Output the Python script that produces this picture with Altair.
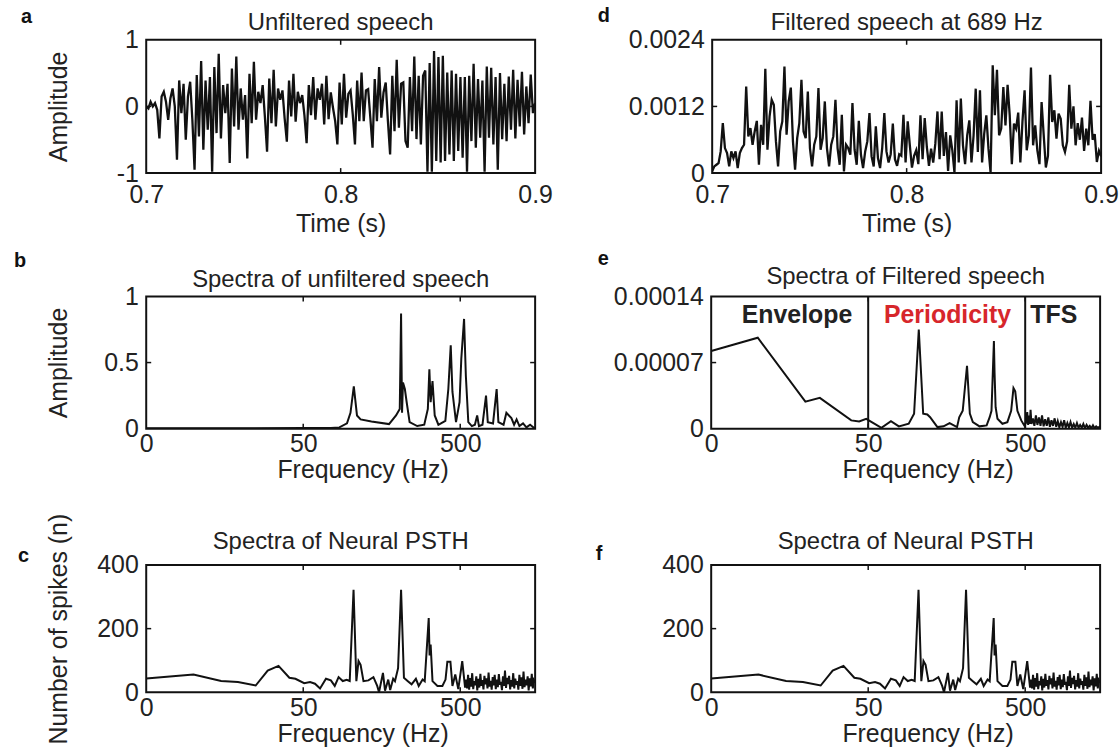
import altair as alt
import pandas as pd

FONT = "Liberation Sans"
INK = "#111111"
TXT = "#222222"
RED = "#d7262b"

# ---------------- data ----------------
# a: unfiltered speech waveform, samples equally spaced over 0.7-0.9 s
amp_a = [
    0.0, -0.03, 0.07, 0.0, 0.05, -0.05, -0.48, 0.15, 0.22, 0.07,
    -0.2, 0.12, 0.27, 0.0, -0.8, 0.39, -0.1, 0.34, -0.5, 0.15,
    0.37, -0.2, -0.95, 0.47, -0.45, 0.68, -0.65, 0.39, -0.35, 0.44,
    -0.98, 0.59, -0.4, 0.79, -0.48, 0.32, -0.1, 0.34, -0.85, 0.57,
    -0.3, 0.75, -0.35, 0.27, -0.2, 0.17, -0.78, 0.49, -0.25, 0.67,
    -0.2, 0.22, 0.05, 0.32, -0.15, -0.68, 0.42, -0.25, 0.55, -0.3,
    0.27, 0.1, 0.24, -0.18, -0.53, 0.39, -0.15, 0.49, -0.23, 0.22,
    0.05, 0.17, -0.13, -0.55, 0.32, -0.13, 0.44, -0.2, 0.27, 0.1,
    0.34, -0.27, 0.46, -0.19, 0.21, -0.02, -0.22, -0.57, 0.36, -0.27,
    0.49, -0.17, 0.19, 0.24, -0.12, -0.57, 0.39, -0.22, 0.51, -0.22,
    0.24, 0.26, -0.17, -0.62, 0.41, -0.22, 0.59, -0.17, 0.21, 0.36,
    -0.22, -0.72, 0.46, -0.37, 0.70, -0.32, 0.34, 0.36, -0.52, -0.62,
    0.44, -0.37, 0.75, -0.49, 0.46, -0.57, 0.46, 0.54, -0.98, 0.65,
    -0.98, 0.83, -0.82, 0.74, -0.84, 0.76, -0.82, 0.51, -0.72, 0.54,
    -0.82, 0.49, -0.67, 0.44, -0.77, 0.44, -0.98, 0.46, -0.52, 0.64,
    -0.62, 0.41, -0.47, 0.39, -0.98, 0.60, -0.47, 0.58, -0.57, 0.44,
    -0.95, 0.50, -0.49, 0.34,
    -0.52, 0.45, -0.35, 0.55, -0.48, 0.4, -0.3, 0.52, -0.42, 0.3,
    -0.25, 0.48, -0.1, 0.05,
]

# d: speech filtered at 689 Hz, samples equally spaced over 0.7-0.9 s
amp_d = [
    0.00003, 0.00012, 0.00015, 0.00018, 0.00039, 0.00090, 0.00045, 0.00036, 0.00012, 0.00039,
    0.00027, 0.00039, 0.00009, 0.00036, 0.00045, 0.00051, 0.00156, 0.00066, 0.00081, 0.00051,
    0.00075, 0.00094, 0.00015, 0.00087, 0.00051, 0.00188, 0.00042, 0.00102, 0.00132, 0.00123,
    0.00057, 0.00012, 0.00075, 0.00093, 0.00192, 0.00069, 0.00129, 0.00154, 0.00057, 0.00006,
    0.00063, 0.00090, 0.00168, 0.00075, 0.00063, 0.00147, 0.00045, 0.00012, 0.00051, 0.00066,
    0.00153, 0.00042, 0.00063, 0.00129, 0.00045, 0.00012, 0.00051, 0.00066, 0.00132, 0.00045,
    0.00015, 0.00105, 0.00003, 0.00051, 0.00045, 0.00033, 0.00126, 0.00042, 0.00015, 0.00094,
    0.00033, 0.00009, 0.00039, 0.00057, 0.00108, 0.00030, 0.00012, 0.00084, 0.00027, 0.00009,
    0.00045, 0.00108, 0.00039,
    0.00019, 0.00034, 0.00089, 0.00025, 0.00013, 0.00034, 0.00031, 0.00105, 0.00019, 0.00093,
    0.00050, 0.00010, 0.00031, 0.00041, 0.00016, 0.00104, 0.00025, 0.00099, 0.00047, 0.00013,
    0.00044, 0.00019, 0.00053, 0.00111, 0.00025, 0.00111, 0.00031, 0.00074, 0.00004, 0.00068,
    0.00041, 0.00001, 0.00131, 0.00019, 0.00134, 0.00050, 0.00016, 0.00068, 0.00095, 0.00019,
    0.00068, 0.00152, 0.00038, 0.00149, 0.00019, 0.00071, 0.00104, 0.00044, 0.00001, 0.00194,
    0.00104, 0.00186, 0.00068, 0.00080, 0.00155, 0.00086, 0.00159, 0.00104, 0.00016, 0.00089,
    0.00080, 0.00109, 0.00019, 0.00093, 0.00149, 0.00041, 0.00068, 0.00190, 0.00050, 0.00086,
    0.00041, 0.00016, 0.00128, 0.00068, 0.00010, 0.00031, 0.00177, 0.00092, 0.00113, 0.00062,
    0.00107, 0.00098, 0.00050, 0.00038, 0.00057, 0.00159,
    0.00080, 0.00120, 0.00050, 0.00090, 0.00060, 0.00100, 0.00040, 0.00080, 0.00050, 0.00130,
    0.00060, 0.00070, 0.00020, 0.00040, 0.00030,
]

# b: spectrum of unfiltered speech
freq_b = [5, 20, 50, 75, 85, 95, 100, 105, 110, 116,
          136, 176, 195, 206, 210, 213, 216, 222, 228, 238,
          266, 295, 311, 318, 324, 333, 344, 363, 402, 420,
          435, 446, 470, 495, 508, 529, 543, 563, 593, 620,
          641, 658, 693, 730, 749, 809, 853, 875, 944, 984,
          1021, 1059, 1102, 1143, 1191, 1256, 1321, 1393, 1500]
amp_b = [0.003, 0.004, 0.005, 0.006, 0.01, 0.04, 0.12, 0.32, 0.1, 0.07,
         0.055, 0.035, 0.1, 0.15, 0.87, 0.12, 0.35, 0.3, 0.2, 0.05,
         0.02, 0.03, 0.15, 0.45, 0.2, 0.36, 0.1, 0.03, 0.06, 0.3,
         0.63, 0.28, 0.05, 0.2, 0.53, 0.83, 0.4, 0.05, 0.02, 0.03,
         0.1, 0.02, 0.03, 0.25, 0.05, 0.04, 0.30, 0.05, 0.03, 0.12,
         0.1, 0.08, 0.03, 0.07, 0.02, 0.04, 0.01, 0.03, 0.0]

# e: spectrum of filtered speech
freq_e = [5, 9.9, 19.9, 24.6, 39, 43.8, 48.6, 54, 60.7, 69.8,
          78.4, 90.6, 98, 105, 112, 119, 124, 138, 151, 165,
          184, 190, 200, 213, 222, 232, 256, 284, 297, 305,
          316, 319, 324, 333, 358, 385, 407, 421, 432, 446,
          472, 493,
          505, 515, 522, 528, 535, 541, 548, 560, 572, 585,
          598, 612, 626, 640, 655, 670, 686, 702, 718, 735,
          752, 770, 788, 806, 825, 845, 865, 885, 906, 928,
          950, 972, 995, 1019, 1043, 1068, 1093, 1119, 1146, 1173,
          1201, 1230, 1259, 1289, 1320, 1351, 1383, 1416, 1450, 1485,
          1500]
amp_e = [8.23e-5, 9.63e-5, 2.87e-5, 3.26e-5, 8.8e-6, 7.7e-6, 1.05e-5, 6.0e-6, 1.0e-6, 8.0e-6,
         2.5e-6, 5.3e-6, 1.58e-5, 1.05e-4, 1.58e-5, 1.5e-5, 1.22e-5, 1.7e-6, 2.5e-6, 6.0e-6,
         1.7e-6, 1.2e-5, 1.9e-5, 6.65e-5, 1.6e-5, 7.0e-6, 2.5e-6, 3.5e-6, 1.22e-5, 1.9e-5,
         9.28e-5, 5.95e-5, 2.27e-5, 1.05e-5, 5.2e-6, 7.0e-6, 1.9e-5, 4.3e-5, 3.95e-5, 1.9e-5,
         8.8e-6, 3.5e-6,
         6.0e-6, 1.75e-5, 4.0e-6, 1.4e-5, 5.0e-6, 2.0e-5, 5.0e-6, 1.1e-5, 3.0e-6, 1.4e-5,
         4.0e-6, 1.2e-5, 3.0e-6, 1.4e-5, 2.5e-6, 1.0e-5, 3.0e-6, 1.2e-5, 2.0e-6, 9.0e-6,
         3.0e-6, 1.1e-5, 2.0e-6, 8.0e-6, 1.5e-6, 7.0e-6, 2.0e-6, 9.0e-6, 1.0e-6, 6.0e-6,
         1.5e-6, 7.0e-6, 1.0e-6, 5.0e-6, 1.0e-6, 6.0e-6, 1.0e-6, 4.0e-6, 1.0e-6, 5.0e-6,
         5.0e-7, 4.0e-6, 1.0e-6, 3.0e-6, 5.0e-7, 3.5e-6, 5.0e-7, 2.5e-6, 1.0e-6, 2.0e-6,
         1.0e-6]

# c / f: spectrum of neural PSTH
freq_psth = [5, 10, 15, 19.2, 24.9, 29.7, 34.8, 40.8, 44.6, 50.7,
             55.3, 59.4, 64, 69.8, 75, 79.4, 84, 89.3, 94.6, 98.9,
             104.6, 109, 112.5, 116, 121, 130, 140, 148, 152, 161,
             166, 174, 179, 187, 192, 201, 210, 219, 232, 245,
             261, 272, 288, 297, 315, 319, 324, 333, 358, 385,
             403, 414, 433, 446, 465, 486, 515, 537,
             545, 553, 561, 570, 578, 587, 596, 605, 614, 623,
             633, 642, 652, 662, 672, 682, 692, 703, 713, 724,
             735, 746, 758, 769, 781, 793, 805, 817, 829, 842,
             855, 868, 881, 894, 908, 922, 936, 950, 964, 979,
             994, 1009, 1024, 1040, 1055, 1071, 1088, 1104, 1121, 1138,
             1155, 1173, 1191, 1209, 1227, 1246, 1265, 1284, 1304, 1324,
             1344, 1364, 1385, 1406, 1428, 1450, 1472, 1500]
spikes_psth = [43.5, 55.7, 35.4, 32.4, 21.3, 68, 83, 45.6, 42.5, 28.4,
               32, 27, 12, 42.5, 37.5, 20, 47.6, 35.4, 39.5, 35.4,
               322, 35, 98, 86, 35, 37.5, 47.6, 20, 0, 61,
               5, 40, 7, 42.5, 35, 76, 322, 45.6, 35, 25,
               42.5, 20, 40.5, 35, 233, 116, 150, 35, 20, 20,
               40, 96, 96, 20, 56, 10, 98, 15,
               40, 12, 55, 8, 45, 18, 60, 10, 35, 22,
               50, 6, 42, 15, 58, 20, 38, 9, 52, 25,
               44, 12, 62, 18, 36, 8, 48, 22, 55, 10,
               40, 16, 57, 24, 33, 7, 50, 20, 68, 14,
               45, 26, 52, 9, 38, 18, 60, 12, 43, 24,
               35, 8, 55, 20, 47, 11, 65, 16, 40, 22,
               50, 6, 44, 19, 58, 12, 38, 30]

time_range = [0.7, 0.9]
time_ticks = [0.7, 0.8, 0.9]
freq_range = [5, 1500]
freq_ticks = [5, 50, 500]
band_edges = [50, 500]
band_names = ["Envelope", "Periodicity", "TFS"]
band_centres = [17.6, 160, 760]

# ---------------- layout ----------------
W = 391
H1, H2, H3 = 134, 133, 128
TICK_FS = 25
AXT_FS = 25
TITLE_FS = 24


def time_df(vals):
    n = len(vals)
    return pd.DataFrame({
        "x": [time_range[0] + (time_range[1] - time_range[0]) * i / (n - 1) for i in range(n)],
        "y": vals,
    })


def panel(df, kind, ydom, yticks, yfmt, title, ty, ytitle, letter, ldx, ldy, h,
          lw=2.0, extras=()):
    if kind == "time":
        xscale = alt.Scale(domain=time_range, nice=False, zero=False)
        xaxis = alt.Axis(values=time_ticks, format=".1f", title="Time (s)",
                         titleX=W / 2, titleY=59, titleBaseline="alphabetic",
                         labelPadding=10)
        xticks_in = [0.8]
    else:
        xscale = alt.Scale(type="log", domain=freq_range, nice=False)
        xaxis = alt.Axis(values=freq_ticks,
                         labelExpr="datum.value < 10 ? '0' : format(datum.value, 'd')",
                         title="Frequency (Hz)", titleX=W / 2 + 22, titleY=49,
                         titleBaseline="alphabetic", labelPadding=3)
        xticks_in = [50, 500]
    yscale = alt.Scale(domain=ydom, nice=False, zero=False)
    yaxis = alt.Axis(values=yticks, labelExpr=yfmt, title=ytitle, titleX=-80,
                     titleY=h / 2, titleAngle=270, titleBaseline="alphabetic",
                     titleAlign="center", labelPadding=8)

    line = alt.Chart(df).mark_line(color=INK, strokeWidth=lw, clip=True).encode(
        x=alt.X("x:Q", scale=xscale, axis=xaxis),
        y=alt.Y("y:Q", scale=yscale, axis=yaxis),
    )
    layers = [line]

    dfx = pd.DataFrame({"x": xticks_in})
    for y0, y1 in [(0, 5), (h, h - 5)]:
        layers.append(alt.Chart(dfx).mark_rule(color=INK, strokeWidth=1.5).encode(
            x=alt.X("x:Q", scale=xscale), y=alt.value(y0), y2=alt.value(y1)))
    dfy = pd.DataFrame({"y": yticks[1:-1]})
    for x0, x1 in [(0, 5), (W, W - 5)]:
        layers.append(alt.Chart(dfy).mark_rule(color=INK, strokeWidth=1.5).encode(
            y=alt.Y("y:Q", scale=yscale), x=alt.value(x0), x2=alt.value(x1)))

    lab = alt.Chart(pd.DataFrame({"t": [letter]})).mark_text(
        font=FONT, fontSize=20, fontWeight="bold", color=INK,
        align="left", baseline="alphabetic").encode(
        text="t:N", x=alt.value(ldx), y=alt.value(ldy))
    ttl = alt.Chart(pd.DataFrame({"t": [title]})).mark_text(
        font=FONT, fontSize=TITLE_FS, color=TXT,
        align="center", baseline="alphabetic").encode(
        text="t:N", x=alt.value(W / 2), y=alt.value(ty))
    layers += [lab, ttl]

    for make in extras:
        layers.extend(make(xscale, h))

    return alt.layer(*layers).properties(width=W, height=h)


def band_marks(xscale, h):
    edges = alt.Chart(pd.DataFrame({"x": band_edges})).mark_rule(
        color=INK, strokeWidth=2).encode(
        x=alt.X("x:Q", scale=xscale), y=alt.value(0), y2=alt.value(h))
    names = pd.DataFrame({"name": band_names, "x": band_centres})
    black = alt.Chart(names).transform_filter("datum.name != 'Periodicity'").mark_text(
        font=FONT, fontSize=25, fontWeight="bold", color=TXT, baseline="alphabetic").encode(
        x=alt.X("x:Q", scale=xscale), y=alt.value(27), text="name:N")
    red = alt.Chart(names).transform_filter("datum.name == 'Periodicity'").mark_text(
        font=FONT, fontSize=25, fontWeight="bold", color=RED, baseline="alphabetic").encode(
        x=alt.X("x:Q", scale=xscale), y=alt.value(27), text="name:N")
    return [edges, black, red]


fmt_int = "datum.value < 0 ? '-' + format(-datum.value, 'd') : format(datum.value, 'd')"
fmt_g = "format(datum.value, '~g')"

df_a = time_df(amp_a)
df_d = time_df(amp_d)
df_b = pd.DataFrame({"x": freq_b, "y": amp_b})
df_e = pd.DataFrame({"x": freq_e, "y": amp_e})
df_c = pd.DataFrame({"x": freq_psth, "y": spikes_psth})

pa = panel(df_a, "time", [-1, 1], [-1, 0, 1], fmt_int, "Unfiltered speech", -10,
           "Amplitude", "a", -126, -17, H1, lw=2.3)
pd_ = panel(df_d, "time", [0, 0.0024], [0, 0.0012, 0.0024],
            "datum.value == 0 ? '0' : format(datum.value, '.4f')",
            "Filtered speech at 689 Hz", -10, "", "d", -115, -18, H1, lw=2.3)
pb = panel(df_b, "freq", [0, 1], [0, 0.5, 1], fmt_g, "Spectra of unfiltered speech", -9,
           "Amplitude", "b", -133, -30, H2)
pe = panel(df_e, "freq", [0, 0.00014], [0, 0.00007, 0.00014],
           "datum.value == 0 ? '0' : format(datum.value, '.5f')",
           "Spectra of Filtered speech", -12, "", "e", -114, -32, H2, extras=(band_marks,))
pc = panel(df_c, "freq", [0, 400], [0, 200, 400], fmt_int, "Spectra of Neural PSTH", -16,
           "Number of spikes (n)", "c", -129, -3, H3)
pf = panel(df_c, "freq", [0, 400], [0, 200, 400], fmt_int, "Spectra of Neural PSTH", -16,
           "", "f", -116, -5, H3)

row1 = alt.hconcat(pa, pd_, spacing=43)
row2 = alt.hconcat(pb, pe, spacing=60)
row3 = alt.hconcat(pc, pf, spacing=58)
lower = alt.vconcat(row2, row3, spacing=28)

chart = alt.vconcat(row1, lower, spacing=10).properties(
    padding={"left": 13, "top": 3, "right": 0, "bottom": 0},
    background="white",
).configure_view(
    stroke=INK, strokeWidth=2,
).configure_axis(
    domain=False, grid=False, ticks=False,
    labelFont=FONT, labelFontSize=TICK_FS, labelColor=TXT,
    labelFlush=False, labelOverlap=False,
    titleFont=FONT, titleFontSize=AXT_FS, titleFontWeight="normal", titleColor=TXT,
)

chart.save("out.html", embed_options={"renderer": "svg", "actions": False})
